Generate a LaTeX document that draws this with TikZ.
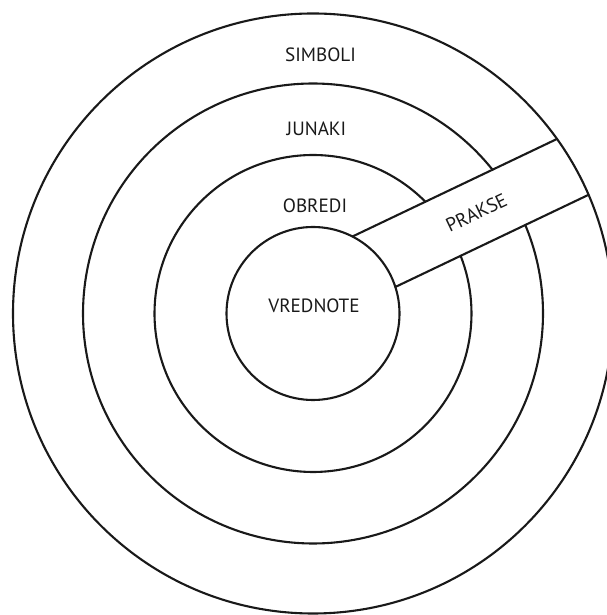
\documentclass[tikz,border=0pt]{standalone}
\usepackage{fontspec}
\setmainfont{PT Sans}
\usetikzlibrary{calc}
\definecolor{OnionInk}{gray}{0.1}
\tikzset{
    onion/diagram/.style={
        x=0.5pt, y=0.5pt,
        draw=OnionInk,
        text=OnionInk,
        line width=1.05pt,
        line cap=round,
        line join=round,
        font=\fontsize{9.6}{11}\selectfont
    },
    onion/ring/.style={draw=OnionInk, line width=1.05pt},
    onion/band/.style={draw=OnionInk, line width=1.05pt},
    onion/label/.style={inner sep=0pt, outer sep=0pt, anchor=center}
}

\begin{document}
\begin{tikzpicture}[onion/diagram]
    \useasboundingbox (0,0) rectangle (606,615);
    \coordinate (C) at (313,301.5);
    % whole circles
    \draw[onion/ring] (C) circle (86.5);
    \draw[onion/ring] (C) circle (300);
    % the two rings broken by the band
    \draw[onion/ring] ($(C)+(44.8:158.5)$) arc (44.8:381.3:158.5);
    \draw[onion/ring] ($(C)+(38.7:230)$) arc (38.7:382.6:230);
    % band
    \coordinate (ui) at ($(C)+(25.5:68.75)+(115.5:52.5)$);
    \coordinate (uo) at ($(C)+(25.5:295.37)+(115.5:52.5)$);
    \coordinate (li) at ($(C)+(25.5:85.73)+(115.5:-11.5)$);
    \coordinate (lo) at ($(C)+(25.5:299.78)+(115.5:-11.5)$);
    \draw[onion/band] (ui) -- (uo);
    \draw[onion/band] (li) -- (lo);
    % labels
    \node[onion/label] (simboli) at (320.5,560) {SIMBOLI};
    \node[onion/label] (junaki) at (316.5,486.5) {JUNAKI};
    \node[onion/label] (obredi) at (315,409.3) {OBREDI};
    \node[onion/label] (vrednote) at (314,309.6) {VREDNOTE};
    \node[onion/label, rotate=25.5] (prakse)
        at ($(C)+(25.5:190.9)+(115.5:20.5)$) {PRAKSE};
\end{tikzpicture}
\end{document}
